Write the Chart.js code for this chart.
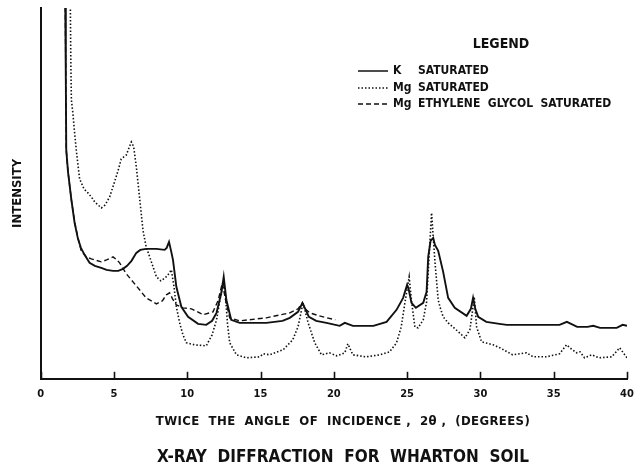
<!DOCTYPE html>
<html>
<head>
<meta charset="utf-8">
<script src="https://cdn.jsdelivr.net/npm/chart.js@4.4.1/dist/chart.umd.min.js"></script>
<style>
  html, body { margin: 0; padding: 0; background: #ffffff; }
  canvas { display: block; }
</style>
</head>
<body>
<canvas id="c" width="634" height="470"></canvas>
<script>
// ---- Data (2θ in degrees, intensity in arbitrary units) ----
const kAngles = [1.68, 1.72, 1.75, 1.87, 2.1, 2.32, 2.55, 2.75, 3.0, 3.34, 3.7, 4.14, 4.5, 4.94, 5.3, 5.62, 5.9, 6.2, 6.53, 6.8, 7.2, 7.9, 8.46, 8.6, 8.76, 8.9, 9.03, 9.26, 9.6, 10.06, 10.74, 11.3, 11.7, 12.0, 12.33, 12.49, 12.67, 13.0, 13.58, 15.4, 16.5, 17.0, 17.56, 17.86, 18.05, 18.3, 18.8, 19.5, 20.4, 20.75, 21.3, 22.7, 23.6, 24.28, 24.73, 25.0, 25.1, 25.3, 25.6, 26.1, 26.33, 26.44, 26.6, 26.78, 26.9, 27.12, 27.46, 27.8, 28.25, 29.06, 29.35, 29.5, 29.65, 29.85, 30.4, 31.3, 31.8, 35.4, 35.9, 36.6, 37.3, 37.7, 38.16, 39.3, 39.7, 40.0];
const kValues = [380, 300, 229, 207, 179, 156, 140, 131, 124, 116, 113, 111, 109, 108, 108, 110, 113, 118, 126, 129, 130, 130, 129, 131, 137, 128, 119, 92, 72, 62, 55, 54, 58, 66, 86, 102, 79, 59, 56, 56, 58, 61, 67, 76, 70, 62, 58, 56, 53, 56, 53, 53, 57, 69, 81, 94, 90, 76, 71, 76, 87, 122, 138, 141, 134, 128, 107, 81, 71, 63, 70, 81, 70, 62, 57, 55, 54, 54, 57, 52, 52, 53, 51, 51, 54, 53];

const mgAngles = [2.0, 2.03, 2.06, 2.1, 2.2, 2.32, 2.44, 2.66, 2.96, 3.23, 3.46, 3.69, 4.14, 4.4, 4.71, 5.0, 5.28, 5.5, 5.85, 6.0, 6.19, 6.35, 6.53, 6.76, 6.98, 7.2, 7.44, 7.9, 8.2, 8.5, 8.69, 8.92, 9.1, 9.26, 9.5, 9.71, 9.95, 10.5, 11.3, 11.7, 12.0, 12.25, 12.45, 12.6, 12.75, 12.9, 13.36, 14.04, 14.95, 15.2, 15.63, 16.54, 17.2, 17.56, 17.9, 18.25, 18.7, 19.16, 19.7, 20.2, 20.75, 20.96, 21.3, 22.2, 23.14, 23.8, 24.28, 24.6, 24.85, 25.14, 25.3, 25.53, 25.75, 26.1, 26.33, 26.48, 26.67, 26.9, 27.12, 27.24, 27.46, 27.8, 28.5, 28.94, 29.28, 29.5, 29.58, 29.74, 30.08, 30.87, 31.33, 32.2, 33.15, 33.6, 34.5, 35.4, 35.88, 36.1, 36.56, 36.8, 37.1, 37.6, 38.1, 38.96, 39.5, 40.0];
const mgValues = [380, 371, 320, 279, 266, 246, 228, 200, 190, 186, 182, 177, 171, 174, 182, 195, 208, 220, 224, 230, 237, 232, 212, 180, 149, 132, 122, 102, 98, 101, 104, 109, 92, 72, 55, 44, 36, 34, 33, 44, 59, 80, 96, 85, 55, 36, 24, 21, 22, 25, 24, 29, 39, 52, 76, 56, 36, 24, 26, 23, 26, 35, 24, 22, 24, 27, 36, 52, 76, 102, 78, 52, 51, 59, 77, 117, 166, 117, 79, 72, 62, 56, 47, 41, 49, 72, 82, 52, 37, 34, 31, 24, 26, 22, 22, 25, 34, 31, 26, 27, 21, 24, 21, 22, 31, 21];

const egAngles = [1.68, 1.72, 1.75, 1.87, 2.1, 2.32, 2.55, 2.77, 3.12, 3.46, 4.14, 4.5, 4.94, 5.2, 5.39, 5.85, 6.53, 7.2, 7.9, 8.3, 8.58, 8.8, 9.0, 9.26, 9.71, 10.29, 10.85, 11.08, 11.76, 12.1, 12.4, 12.6, 12.9, 13.58, 15.4, 17.0, 17.56, 17.86, 18.05, 18.36, 19.0, 20.1];
const egValues = [380, 300, 229, 207, 179, 157, 141, 128, 122, 120, 117, 119, 122, 119, 116, 105, 93, 81, 75, 78, 84, 86, 80, 74, 71, 70, 66, 64, 67, 78, 96, 80, 61, 58, 61, 66, 70, 76, 70, 66, 63, 59];

const xTickStep = 5;   // tick labels 0, 5, ... 40
const xMin = 0, xMax = 40;
const yMin = 0, yMax = 371;

const seriesLabels = ['K SATURATED', 'Mg SATURATED', 'Mg ETHYLENE GLYCOL SATURATED'];
const xAxisTitle = 'TWICE  THE  ANGLE  OF  INCIDENCE ,  2θ ,  (DEGREES)';
const chartTitle = 'X-RAY  DIFFRACTION  FOR  WHARTON  SOIL';
const yAxisTitle = 'INTENSITY';

function pts(xs, ys) { return xs.map((x, i) => ({ x: x, y: ys[i] })); }

const FONT = '"DejaVu Sans Condensed", "Liberation Sans Narrow", "DejaVu Sans", sans-serif';
const INK = '#111111';

// inward tick marks on the x axis
const inwardTicks = {
  id: 'inwardTicks',
  afterDraw(chart) {
    const sx = chart.scales.x;
    const ctx = chart.ctx;
    const y0 = chart.chartArea.bottom;
    ctx.save();
    ctx.strokeStyle = INK;
    ctx.lineWidth = 1.6;
    sx.ticks.forEach(t => {
      const px = Math.round(sx.getPixelForValue(t.value)) + 0.5;
      ctx.beginPath();
      ctx.moveTo(px, y0);
      ctx.lineTo(px, y0 - 7);
      ctx.stroke();
    });
    ctx.restore();
  }
};

// axis title + chart title below the axis
const bottomTexts = {
  id: 'bottomTexts',
  afterDraw(chart) {
    const ctx = chart.ctx;
    const area = chart.chartArea;
    ctx.save();
    ctx.fillStyle = INK;
    ctx.textAlign = 'center';
    ctx.textBaseline = 'middle';
    ctx.font = 'bold 13px ' + FONT;
    if ('letterSpacing' in ctx) ctx.letterSpacing = '0.4px';
    ctx.fillText(xAxisTitle, 343, area.bottom + 43);
    if ('letterSpacing' in ctx) ctx.letterSpacing = '0px';
    ctx.font = 'bold 17px ' + FONT;
    ctx.fillText(chartTitle, 343, area.bottom + 79);
    ctx.restore();
  }
};

// legend block drawn inside the plot
const legendBox = {
  id: 'legendBox',
  afterDraw(chart) {
    const ctx = chart.ctx;
    ctx.save();
    ctx.fillStyle = INK;
    ctx.textBaseline = 'middle';
    ctx.font = 'bold 14px ' + FONT;
    ctx.textAlign = 'center';
    ctx.fillText('LEGEND', 501, 44);
    ctx.textAlign = 'left';
    ctx.font = 'bold 12px ' + FONT;
    const rowY = [71, 88, 104];
    chart.data.datasets.forEach((ds, i) => {
      const y = rowY[i];
      ctx.save();
      ctx.strokeStyle = ds.borderColor;
      ctx.lineWidth = i === 0 ? 1.5 : 1.3;
      ctx.setLineDash(ds.borderDash || []);
      ctx.beginPath();
      ctx.moveTo(358, y);
      ctx.lineTo(388, y);
      ctx.stroke();
      ctx.restore();
      const words = ds.label.split(' ');
      ctx.fillText(words[0], 393, y);
      ctx.fillText(words.slice(1).join('  '), 418, y);
    });
    ctx.restore();
  }
};

new Chart(document.getElementById('c'), {
  type: 'line',
  data: {
    datasets: [
      {
        label: seriesLabels[0],
        data: pts(kAngles, kValues),
        borderColor: INK,
        borderWidth: 1.9,
        borderDash: [],
        pointRadius: 0,
        tension: 0,
        fill: false
      },
      {
        label: seriesLabels[1],
        data: pts(mgAngles, mgValues),
        borderColor: INK,
        borderWidth: 1.6,
        borderDash: [1.5, 2],
        pointRadius: 0,
        tension: 0,
        fill: false
      },
      {
        label: seriesLabels[2],
        data: pts(egAngles, egValues),
        borderColor: INK,
        borderWidth: 1.4,
        borderDash: [5, 3],
        pointRadius: 0,
        tension: 0,
        fill: false
      }
    ]
  },
  options: {
    responsive: false,
    animation: false,
    devicePixelRatio: 1,
    layout: { padding: { left: 0, right: 7, top: 8, bottom: 69 } },
    plugins: {
      legend: { display: false },
      tooltip: { enabled: false },
      title: { display: false }
    },
    scales: {
      x: {
        type: 'linear',
        min: xMin,
        max: xMax,
        grid: {
          display: true,
          drawOnChartArea: false,
          drawTicks: true,
          tickLength: 9,
          tickColor: 'rgba(0,0,0,0)',
          color: 'rgba(0,0,0,0)'
        },
        border: { display: true, color: INK, width: 2 },
        ticks: {
          stepSize: xTickStep,
          color: INK,
          padding: 0,
          maxRotation: 0,
          font: { family: FONT, size: 11, weight: 'bold', lineHeight: 1.2 }
        },
        title: { display: false }
      },
      y: {
        type: 'linear',
        min: yMin,
        max: yMax,
        grid: { display: false, drawTicks: false },
        border: { display: true, color: INK, width: 2 },
        ticks: { display: false },
        title: {
          display: true,
          text: yAxisTitle,
          color: INK,
          font: { family: FONT, size: 13, weight: 'bold', lineHeight: 1.2 },
          padding: { top: 10, bottom: 15 }
        }
      }
    }
  },
  plugins: [inwardTicks, bottomTexts, legendBox]
});
</script>
</body>
</html>
